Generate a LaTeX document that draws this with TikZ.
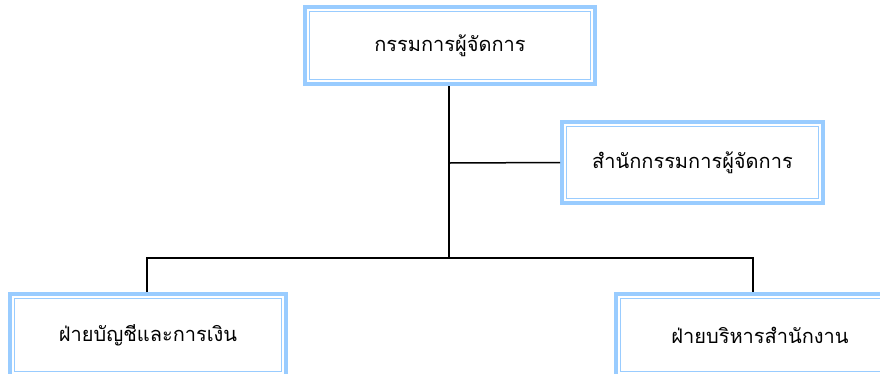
\documentclass[tikz,border=0pt]{standalone}
\usepackage{fontspec}
\newfontfamily\thaifont[Script=Thai]{Loma}
\definecolor{boxblue}{HTML}{99CCFF}
\begin{document}
\begin{tikzpicture}[x=1pt,y=-1pt,
  orgbox/.style={draw=boxblue,line width=4pt,rectangle,inner sep=0pt,
    font=\thaifont\fontsize{20}{24}\selectfont},
  innerline/.style={draw=boxblue,line width=1.2pt},
  conn/.style={draw=black,line width=1.5pt}]
\useasboundingbox (0,0) rectangle (880,373);
\clip (0,0) rectangle (880,373);
\fill[white] (0,0) rectangle (880,373);
\node[orgbox,minimum width=290,minimum height=77] (top) at (450,45.5) {กรรมการผู้จัดการ};
\node[orgbox,minimum width=261,minimum height=81] (mid) at (692.5,162.5) {สำนักกรรมการผู้จัดการ};
\node[orgbox,minimum width=276,minimum height=82] (bl) at (148,335) {ฝ่ายบัญชีและการเงิน};
\node[orgbox,minimum width=288,minimum height=82] (br) at (760,335) {ฝ่ายบริหารสำนักงาน};
\foreach \n in {top,mid,bl,br}
  \draw[innerline] ([shift={(6.5pt,-6.5pt)}]\n.north west) rectangle ([shift={(-6.5pt,6.5pt)}]\n.south east);
\coordinate (j) at (449,258);
\coordinate (m) at (449,163);
\coordinate (jl) at (147,258);
\coordinate (jr) at (753,258);
\draw[conn] (top.south -| j) -- (j);
\draw[conn] (m) -- (mid.west);
\draw[conn] (jl |- bl.north) -- (jl) -- (jr) -- (jr |- br.north);
\end{tikzpicture}
\end{document}
